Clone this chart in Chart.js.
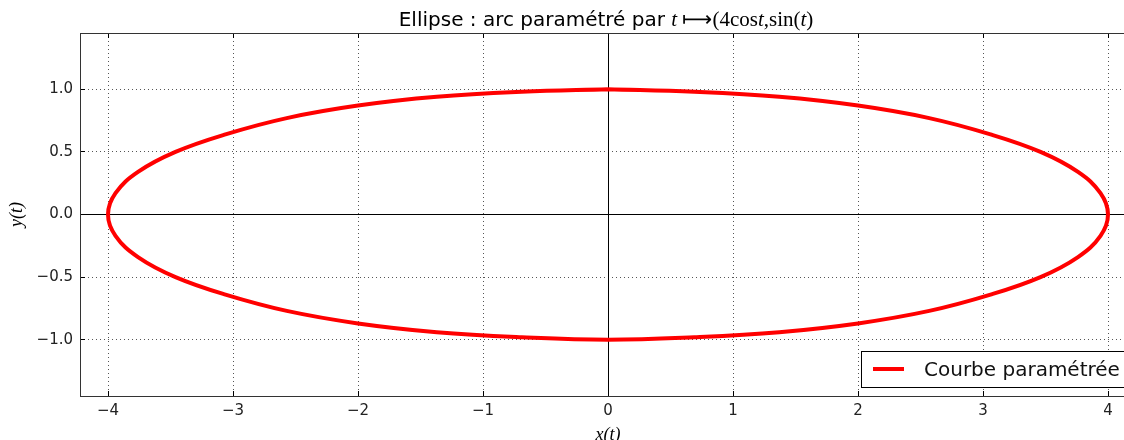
<!DOCTYPE html>
<html lang="fr">
<head>
  <meta charset="UTF-8">
  <title>Ellipse - arc paramétré</title>
  <script src="https://cdn.jsdelivr.net/npm/chart.js"></script>
  <style>
    html, body { margin: 0; padding: 0; background: #fff; overflow: hidden; }
    #wrap { width: 1160px; height: 440px; }
  </style>
</head>
<body>
  <div id="wrap"><canvas id="ellipse" width="1160" height="440"></canvas></div>
  <script>
    // points, every 10 degrees, starting from the top
    const xValues = [0.00, -0.69, -1.37, -2.00, -2.57, -3.06, -3.46, -3.76, -3.94, -4.00,
      -3.94, -3.76, -3.46, -3.06, -2.57, -2.00, -1.37, -0.69, 0.00,
      0.69, 1.37, 2.00, 2.57, 3.06, 3.46, 3.76, 3.94, 4.00,
      3.94, 3.76, 3.46, 3.06, 2.57, 2.00, 1.37, 0.69, 0.00];
    const yValues = [1.00, 0.98, 0.94, 0.87, 0.77, 0.64, 0.50, 0.34, 0.17, 0.00,
      -0.17, -0.34, -0.50, -0.64, -0.77, -0.87, -0.94, -0.98, -1.00,
      -0.98, -0.94, -0.87, -0.77, -0.64, -0.50, -0.34, -0.17, 0.00,
      0.17, 0.34, 0.50, 0.64, 0.77, 0.87, 0.94, 0.98, 1.00];
    const xTicks = [-4, -3, -2, -1, 0, 1, 2, 3, 4];
    const yTicks = [-1.0, -0.5, 0.0, 0.5, 1.0];
    const xRange = [-4.224, 4.224];
    const yRange = [-1.45, 1.45];
    const curveLabel = 'Courbe paramétrée';

    const minus = v => String(v).replace('-', '\u2212');
    const crisp = p => Math.floor(p) + 0.5;

    // axhline / axvline through the origin, under the curve
    const zeroLines = {
      id: 'zeroLines',
      beforeDatasetsDraw(chart) {
        const ctx = chart.ctx;
        const a = chart.chartArea;
        const px = crisp(chart.scales.x.getPixelForValue(0));
        const py = crisp(chart.scales.y.getPixelForValue(0));
        ctx.save();
        ctx.strokeStyle = '#000';
        ctx.lineWidth = 1;
        ctx.beginPath();
        ctx.moveTo(a.left, py); ctx.lineTo(a.right, py);
        ctx.moveTo(px, a.top); ctx.lineTo(px, a.bottom);
        ctx.stroke();
        ctx.restore();
      }
    };

    // frame, inward ticks, title, axis labels and legend box
    const decor = {
      id: 'decor',
      afterDraw(chart) {
        const ctx = chart.ctx;
        const a = chart.chartArea;
        const xs = chart.scales.x, ys = chart.scales.y;
        ctx.save();
        ctx.strokeStyle = '#000';
        ctx.lineWidth = 1;
        ctx.beginPath();
        xTicks.forEach(t => {
          const px = crisp(xs.getPixelForValue(t));
          ctx.moveTo(px, a.bottom); ctx.lineTo(px, a.bottom - 5);
          ctx.moveTo(px, a.top); ctx.lineTo(px, a.top + 5);
        });
        yTicks.forEach(t => {
          const py = crisp(ys.getPixelForValue(t));
          ctx.moveTo(a.left, py); ctx.lineTo(a.left + 5, py);
          ctx.moveTo(a.right, py); ctx.lineTo(a.right - 5, py);
        });
        ctx.stroke();
        ctx.strokeStyle = '#333';
        ctx.strokeRect(a.left + 0.5, a.top + 0.5, a.right - a.left, a.bottom - a.top);

        // title: text part + math part
        ctx.fillStyle = '#000';
        ctx.textBaseline = 'alphabetic';
        const parts = [
          ['20px "DejaVu Sans"', 'Ellipse : arc paramétré par '],
          ['italic 21px "Liberation Serif"', 't'],
          ['21px "Liberation Serif"', ' \u27FC'],
          ['21px "Liberation Serif"', '(4cos'],
          ['italic 21px "Liberation Serif"', 't'],
          ['21px "Liberation Serif"', ',sin('],
          ['italic 21px "Liberation Serif"', 't'],
          ['21px "Liberation Serif"', ')']
        ];
        let total = 0;
        parts.forEach(p => { ctx.font = p[0]; total += ctx.measureText(p[1]).width; });
        let tx = xs.getPixelForValue(0) - total / 2 - 2;
        ctx.textAlign = 'left';
        parts.forEach(p => {
          ctx.font = p[0];
          ctx.fillText(p[1], tx, 26);
          tx += ctx.measureText(p[1]).width;
        });

        // axis labels
        ctx.font = 'italic 18px "Liberation Serif"';
        ctx.textAlign = 'center';
        ctx.fillText('x(t)', xs.getPixelForValue(0), 440);
        ctx.save();
        ctx.translate(22, ys.getPixelForValue(0));
        ctx.rotate(-Math.PI / 2);
        ctx.fillText('y(t)', 0, 0);
        ctx.restore();

        // legend, lower right
        const lx = 861, ly = 351, lw = a.right - 10 - lx, lh = 36;
        ctx.fillStyle = '#fff';
        ctx.fillRect(lx, ly, lw, lh);
        ctx.strokeStyle = '#000';
        ctx.strokeRect(lx + 0.5, ly + 0.5, lw, lh);
        ctx.strokeStyle = '#ff0000';
        ctx.lineWidth = 4;
        ctx.beginPath();
        ctx.moveTo(873, ly + 18);
        ctx.lineTo(904, ly + 18);
        ctx.stroke();
        ctx.fillStyle = '#111';
        ctx.font = '20px "DejaVu Sans"';
        ctx.textAlign = 'left';
        ctx.fillText(curveLabel, 924, ly + 25);
        ctx.restore();
      }
    };

    const ctx = document.getElementById('ellipse').getContext('2d');
    new Chart(ctx, {
      type: 'scatter',
      data: {
        datasets: [{
          label: curveLabel,
          data: xValues.map((x, i) => ({ x: x, y: yValues[i] })),
          showLine: true,
          borderColor: '#ff0000',
          borderWidth: 4,
          pointRadius: 0,
          tension: 0.4
        }]
      },
      options: {
        responsive: false,
        animation: false,
        layout: { padding: { left: 0, right: 24, top: 33, bottom: 0 } },
        plugins: { legend: { display: false }, tooltip: { enabled: false } },
        scales: {
          x: {
            type: 'linear',
            min: xRange[0],
            max: xRange[1],
            afterBuildTicks: s => { s.ticks = xTicks.map(v => ({ value: v })); },
            afterFit: s => { s.height = 44; },
            grid: {
              color: c => (c.tick && c.tick.value === 0 ? 'rgba(0,0,0,0)' : '#555'),
              drawTicks: false
            },
            border: { display: false, dash: [1, 3] },
            ticks: {
              padding: 6,
              color: '#222',
              font: { family: 'DejaVu Sans', size: 15 },
              callback: v => minus(v)
            }
          },
          y: {
            type: 'linear',
            min: yRange[0],
            max: yRange[1],
            afterBuildTicks: s => { s.ticks = yTicks.map(v => ({ value: v })); },
            afterFit: s => { s.width = 80; },
            grid: {
              color: c => (c.tick && c.tick.value === 0 ? 'rgba(0,0,0,0)' : '#555'),
              drawTicks: false
            },
            border: { display: false, dash: [1, 3] },
            ticks: {
              padding: 7,
              color: '#222',
              font: { family: 'DejaVu Sans', size: 15 },
              callback: v => minus(v.toFixed(1))
            }
          }
        }
      },
      plugins: [zeroLines, decor]
    });
  </script>
</body>
</html>
